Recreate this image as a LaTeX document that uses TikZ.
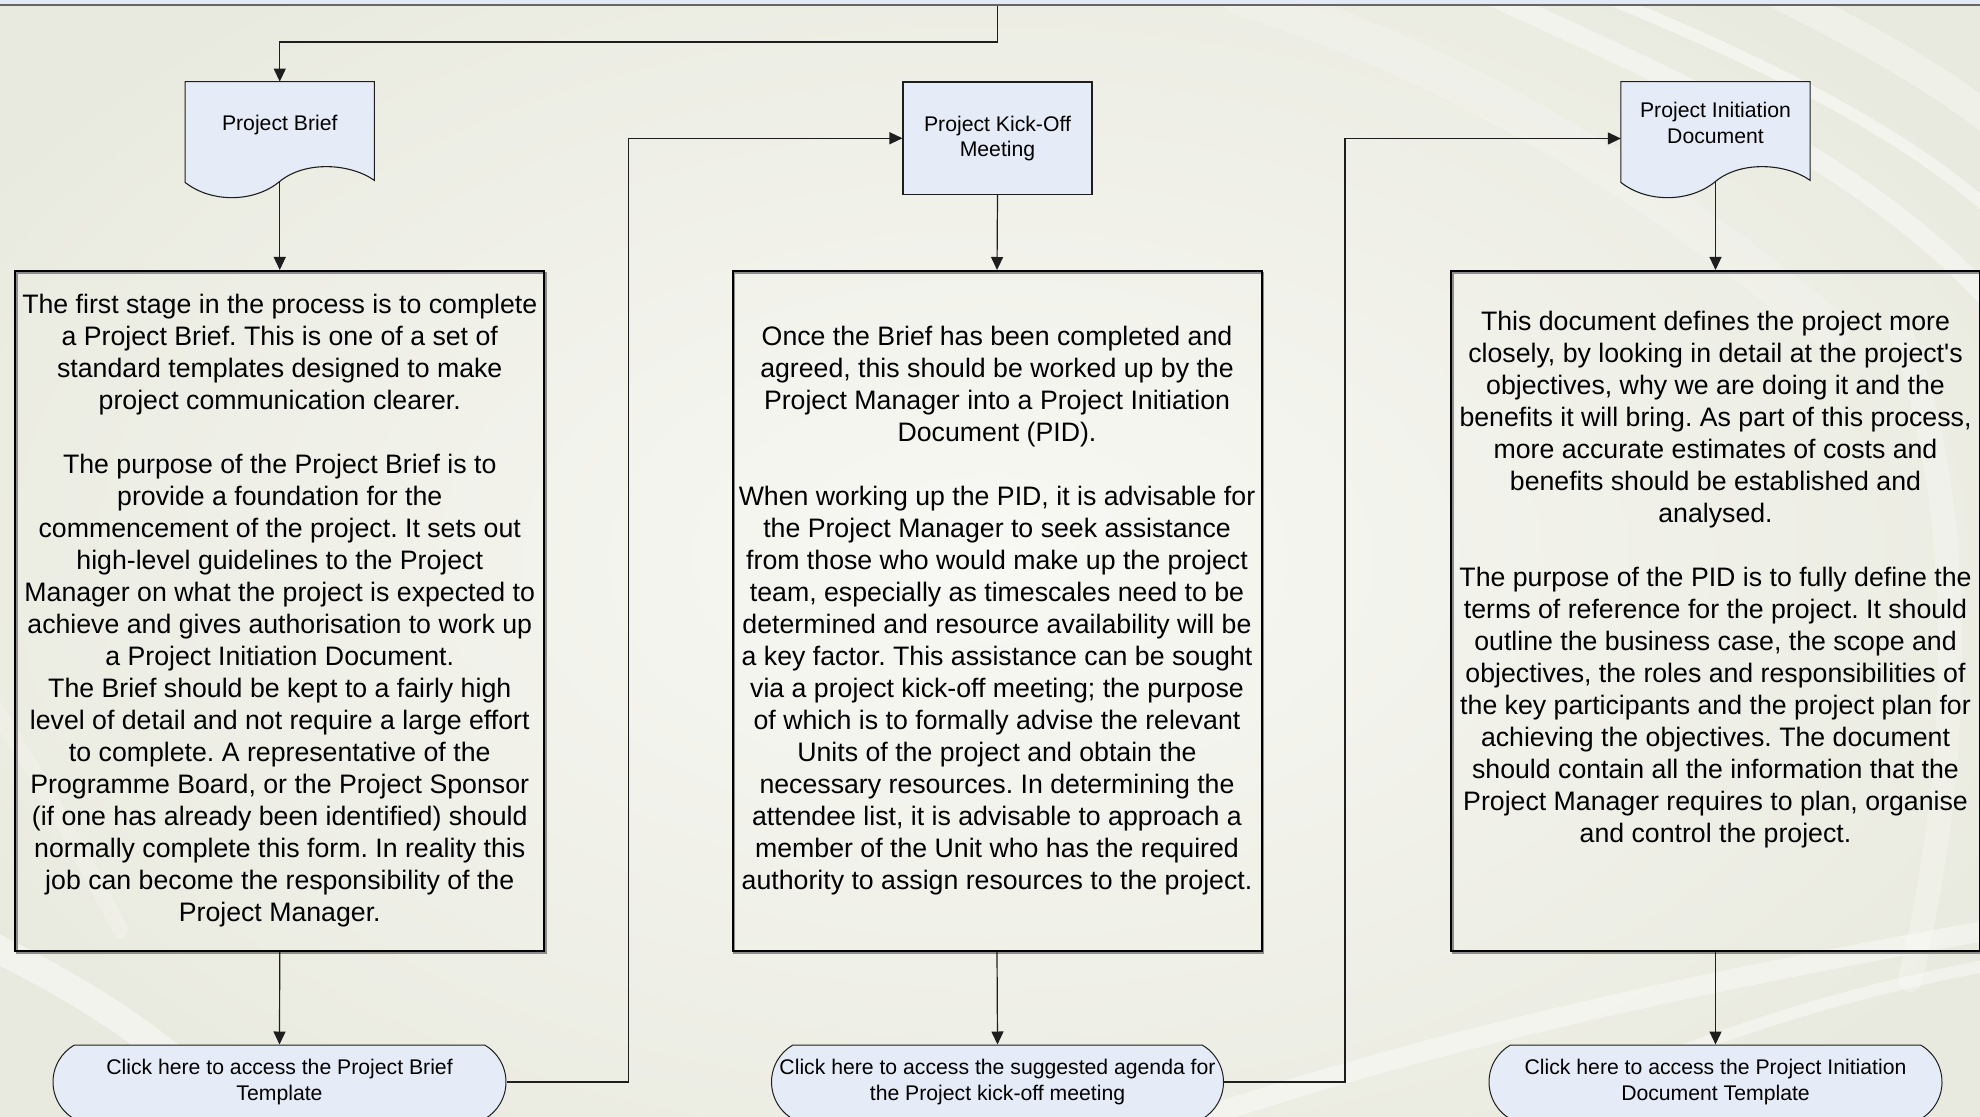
\documentclass[tikz,border=0pt]{standalone}
\usepackage{fontspec}
\setmainfont{Liberation Sans}
\newfontfamily\plainsans{Liberation Sans}
\usetikzlibrary{arrows.meta,calc,shapes.misc}
\pgfdeclarelayer{back}
\pgfdeclarelayer{mid}
\pgfsetlayers{back,mid,main}
\definecolor{bgout}{RGB}{233,234,223}
\definecolor{bgin}{RGB}{248,248,244}
\definecolor{shapeblue}{RGB}{230,236,247}
\definecolor{topblue}{RGB}{228,234,245}
\definecolor{lineclr}{RGB}{30,30,30}
\tikzset{
  conn/.style={draw=lineclr, line width=0.6pt},
  arr/.style={conn, -{Triangle[length=6.5pt,width=6pt]}},
  bigbox/.style={draw=black, line width=1pt, minimum width=264.5pt, minimum height=340pt, inner sep=0pt,
    preaction={draw=black!45, line width=1pt, transform canvas={shift={(0.8pt,-1pt)}}}},
  bodytxt/.style={align=center, font=\fontsize{13.35pt}{16pt}\selectfont},
  smalltxt/.style={align=center, font=\fontsize{10.6pt}{12.65pt}\selectfont},
  docnode/.style={smalltxt, minimum width=94.25pt, minimum height=41pt, inner sep=0pt},
  kickbox/.style={smalltxt, draw=lineclr, line width=0.55pt, fill=shapeblue, minimum width=94.5pt, minimum height=56.25pt, inner sep=0pt},
  term/.style={smalltxt, rounded rectangle, rounded rectangle arc length=120, draw=lineclr, line width=0.5pt, fill=shapeblue, minimum height=37pt, minimum width=226.5pt, inner sep=0pt},
  docpath/.style={draw=lineclr, line width=0.55pt, fill=shapeblue},
  swoosh/.style={draw=white, line cap=round},
}
\newcommand\mydocshape[1]{%
  \filldraw[docpath] (#1.north west) -- (#1.north east) -- ($(#1.south east)+(0,16)$)
    .. controls ($(#1.south east)+(-24,-1)$) and ($(#1.south east)+(-69,-4)$) .. ($(#1.south)+(0,17)$)
    .. controls ($(#1.south)+(-25,38)$) and ($(#1.south)+(-68,39)$) .. ($(#1.south west)+(0,18)$) -- cycle;}
\begin{document}
\frenchspacing
\begin{tikzpicture}[x=0.5pt,y=-0.5pt]
\useasboundingbox (0,0) rectangle (1980,1117);
\begin{pgfonlayer}{back}
  \begin{scope}
    \clip (0,0) rectangle (1980,1117);
    \shade[inner color=bgin, outer color=bgout] (-200,-150) rectangle (2180,1267);
    % decorative swooshes
    \draw[swoosh, line width=20pt, opacity=.2] (1240,-5) .. controls (1450,60) and (1650,180) .. (1830,330);
    \draw[swoosh, line width=10pt, opacity=.4] (1490,-5) .. controls (1650,70) and (1850,150) .. (1990,300);
    \draw[swoosh, line width=6pt, opacity=.45] (1600,-5) .. controls (1760,60) and (1900,130) .. (1990,210);
    \draw[swoosh, line width=15pt, opacity=.3] (1780,-5) .. controls (1870,40) and (1940,80) .. (1990,120);
    \draw[swoosh, line width=12pt, opacity=.25] (1900,330) .. controls (1965,500) and (1965,750) .. (1910,980);
    \draw[swoosh, line width=10pt, opacity=.4] (1180,1125) .. controls (1400,1050) and (1650,990) .. (1990,930);
    \draw[swoosh, line width=6pt, opacity=.4] (1500,1125) .. controls (1650,1060) and (1800,1000) .. (1990,965);
    \draw[swoosh, line width=14pt, opacity=.45] (-10,945) .. controls (70,985) and (150,1030) .. (250,1125);
    \draw[swoosh, line width=8pt, opacity=.2] (-10,700) .. controls (40,780) and (80,850) .. (120,930);
  \end{scope}
  \fill[topblue] (0,0) rectangle (1980,5);
  \draw[black!60, line width=1pt] (0,5.5) -- (1980,5.5);
\end{pgfonlayer}

% top-row shapes
\node[docnode, text height=8pt, text depth=0pt] (brief) at (279.75,123) {Project Brief};
\node[kickbox] (kick) at (997.5,138.25) {Project Kick-Off\\Meeting};
\node[docnode] (pid) at (1715.5,123) {Project Initiation\\Document};
\begin{pgfonlayer}{mid}
  \mydocshape{brief}
  \mydocshape{pid}
\end{pgfonlayer}
\coordinate (briefbot) at ($(brief.south)+(0,17)$);
\coordinate (pidbot) at ($(pid.south)+(0,17)$);
\coordinate (pidin) at ($(pid.west)+(0,15.5)$);
\coordinate (topsrc) at (997.5,6);

% text boxes
\node[bigbox, bodytxt] (box1) at (279.75,611) {The first stage in the process is to complete\\
a Project Brief. This is one of a set of\\
standard templates designed to make\\
project communication clearer.\\[16pt]
The purpose of the Project Brief is to\\
provide a foundation for the\\
commencement of the project. It sets out\\
high-level guidelines to the Project\\
Manager on what the project is expected to\\
achieve and gives authorisation to work up\\
a Project Initiation Document.\\
The Brief should be kept to a fairly high\\
level of detail and not require a large effort\\
to complete. A representative of the\\
Programme Board, or the Project Sponsor\\
(if one has already been identified) should\\
normally complete this form. In reality this\\
job can become the responsibility of the\\
Project Manager.};

\node[bigbox, bodytxt] (box2) at (997,611) {Once the Brief has been completed and\\
agreed, this should be worked up by the\\
Project Manager into a Project Initiation\\
Document (PID).\\[16pt]
When working up the PID, it is advisable for\\
the Project Manager to seek assistance\\
from those who would make up the project\\
team, especially as timescales need to be\\
determined and resource availability will be\\
a key factor. This assistance can be sought\\
via a project kick-off meeting; the purpose\\
of which is to formally advise the relevant\\
Units of the project and obtain the\\
necessary resources. In determining the\\
attendee list, it is advisable to approach a\\
member of the Unit who has the required\\
authority to assign resources to the project.};

\node[bigbox] (box3) at (1715.5,611) {};
\node[bodytxt, inner sep=0pt] (box3txt) at (1715.5,580) {This document defines the project more\\
closely, by looking in detail at the project{\plainsans'}s\\
objectives, why we are doing it and the\\
benefits it will bring. As part of this process,\\
more accurate estimates of costs and\\
benefits should be established and\\
analysed.\\[16pt]
The purpose of the PID is to fully define the\\
terms of reference for the project. It should\\
outline the business case, the scope and\\
objectives, the roles and responsibilities of\\
the key participants and the project plan for\\
achieving the objectives. The document\\
should contain all the information that the\\
Project Manager requires to plan, organise\\
and control the project.};

% terminators
\node[term] (t1) at (279.5,1082) {Click here to access the Project Brief\\Template};
\node[term, minimum width=226pt] (t2) at (997.5,1082) {Click here to access the suggested agenda for\\the Project kick-off meeting};
\node[term] (t3) at (1715.5,1082) {Click here to access the Project Initiation\\Document Template};

% connectors
\draw[arr] (topsrc) -- ++(0,36) -| (brief.north);
\draw[arr] (briefbot) -- (box1.north);
\draw[arr] (box1.south) -- (t1.north);
\draw[arr] (t1.east) -- ++(121.6,0) |- (kick.west);
\draw[arr] (kick.south) -- (box2.north);
\draw[arr] (box2.south) -- (t2.north);
\draw[arr] (t2.east) -- ++(121,0) |- (pidin);
\draw[arr] (pidbot) -- (box3.north);
\draw[arr] (box3.south) -- (t3.north);
\end{tikzpicture}
\end{document}
